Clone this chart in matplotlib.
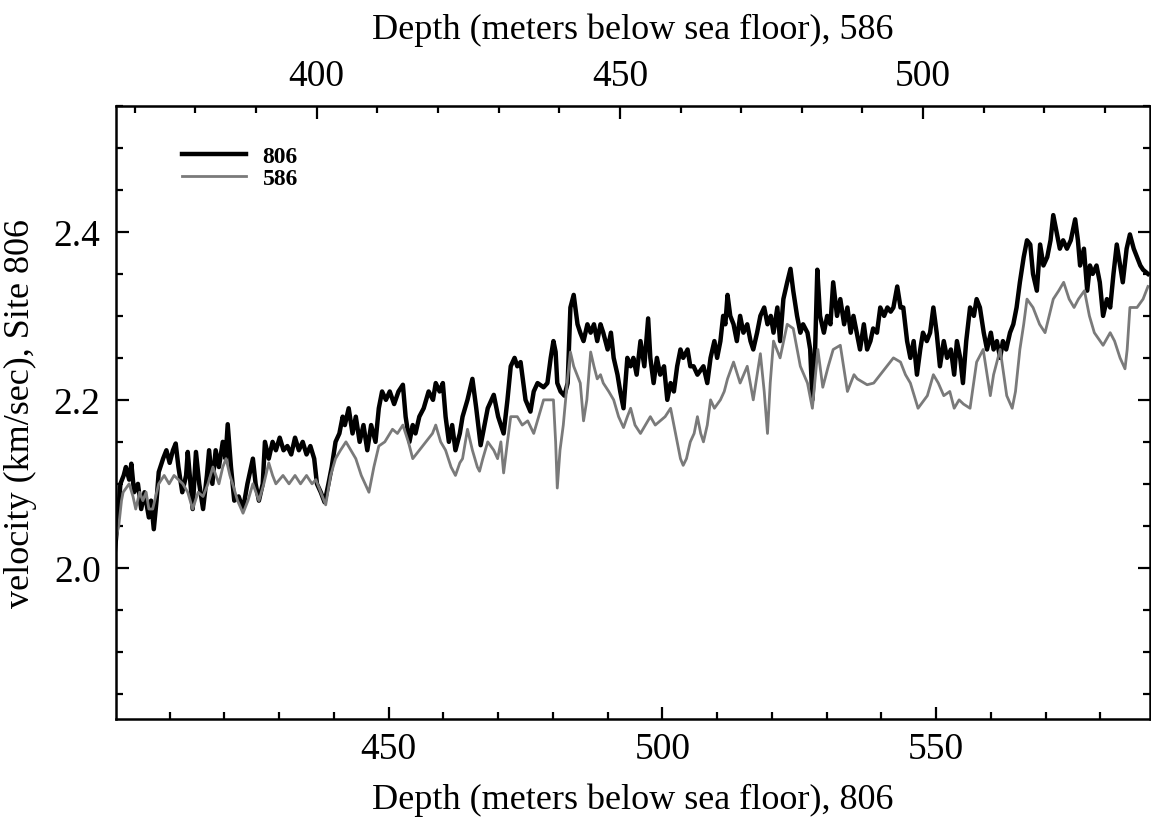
import numpy as np
import matplotlib.pyplot as plt
from matplotlib.ticker import MultipleLocator

plt.rcParams['font.family'] = ['Liberation Serif', 'DejaVu Serif']

# Site 806 velocity (km/sec) against depth (mbsf, 806 scale)
depth_806 = [400.0, 400.4, 401.0, 401.6, 402.0, 402.6, 403.0, 403.5, 404.2, 404.8,
             405.4, 406.2, 406.6, 407.1, 407.6, 408.0, 408.8, 409.4, 410.0, 410.6,
             411.1, 411.6, 412.3, 413.0, 413.3, 413.8, 414.2, 414.8, 415.4, 416.1,
             416.8, 417.2, 417.8, 418.4, 419.0, 419.7, 420.2, 420.6, 421.2, 421.8,
             422.6, 423.4, 424.2, 425.2, 425.7, 426.3, 427.0, 427.4, 428.1, 428.8,
             429.4, 430.1, 430.8, 431.5, 432.2, 432.9, 433.6, 434.3, 435.0, 435.7,
             436.4, 436.9, 437.6, 438.3, 439.0, 439.6, 440.3, 441.0, 441.6, 442.0,
             442.7, 443.4, 444.0, 444.7, 445.4, 446.1, 446.8, 447.6, 448.2, 448.8,
             449.5, 450.2, 451.0, 451.8, 452.6, 453.1, 453.8, 454.4, 454.9, 455.6,
             456.4, 457.3, 458.1, 458.6, 459.3, 459.9, 460.4, 461.0, 461.6, 462.2,
             463.0, 463.5, 464.4, 465.3, 466.0, 466.8, 467.5, 468.1, 469.2, 470.0,
             471.0, 471.7, 472.3, 473.0, 473.5, 474.1, 475.0, 475.9, 476.5, 477.2,
             478.3, 479.0, 479.6, 480.1, 480.5, 480.8, 481.4, 482.1, 482.7, 483.2,
             483.8, 484.1, 484.5, 485.0, 485.6, 486.3, 486.9, 487.5, 488.1, 488.7,
             489.2, 490.0, 490.6, 491.1, 491.8, 492.3, 492.9, 493.6, 494.2, 494.7,
             495.3, 496.0, 496.7, 497.4, 497.8, 498.4, 499.0, 499.6, 500.3, 500.9,
             501.5, 502.1, 502.7, 503.3, 503.8, 504.6, 505.1, 505.7, 506.4, 507.5,
             508.2, 508.8, 509.5, 510.0, 510.6, 511.1, 511.5, 511.9, 512.4, 513.0,
             513.6, 514.2, 514.8, 515.5, 516.1, 516.6, 517.3, 517.9, 518.6, 519.2,
             519.8, 520.3, 521.0, 521.5, 522.1, 522.8, 523.4, 523.9, 524.6, 525.2,
             525.7, 526.5, 527.0, 527.4, 527.9, 528.3, 528.8, 529.5, 530.1, 530.7,
             531.2, 531.9, 532.5, 533.2, 533.8, 534.4, 534.9, 535.5, 536.1, 536.8,
             537.4, 538.0, 538.5, 539.2, 539.8, 540.5, 541.1, 541.7, 542.2, 542.9,
             543.5, 544.0, 544.7, 545.3, 545.9, 546.5, 547.1, 547.6, 548.3, 548.9,
             549.5, 550.1, 550.7, 551.4, 552.0, 552.7, 553.3, 553.8, 554.4, 554.9,
             555.5, 556.2, 556.9, 557.4, 558.0, 558.7, 559.3, 560.0, 560.5, 561.1,
             561.7, 562.2, 562.8, 563.5, 564.1, 564.7, 565.3, 566.0, 566.6, 567.2,
             567.7, 568.4, 569.0, 569.6, 570.3, 570.9, 571.4, 572.0, 572.6, 573.2,
             573.9, 574.6, 575.4, 575.9, 576.3, 577.0, 577.6, 578.1, 578.6, 579.3,
             579.9, 580.5, 581.2, 581.8, 582.4, 583.0, 583.6, 584.1, 584.8, 585.4,
             586.1, 586.7, 587.3, 587.8, 588.7]
vel_806 = [2.02, 2.05, 2.10, 2.11, 2.12, 2.105, 2.124, 2.09, 2.10, 2.07,
           2.09, 2.06, 2.08, 2.046, 2.08, 2.114, 2.13, 2.14, 2.125, 2.14,
           2.148, 2.12, 2.09, 2.11, 2.138, 2.10, 2.07, 2.138, 2.10, 2.07,
           2.11, 2.14, 2.10, 2.14, 2.12, 2.15, 2.13, 2.171, 2.12, 2.08,
           2.085, 2.07, 2.10, 2.13, 2.10, 2.08, 2.10, 2.15, 2.13, 2.15,
           2.14, 2.155, 2.14, 2.145, 2.135, 2.155, 2.14, 2.15, 2.135, 2.145,
           2.13, 2.10, 2.09, 2.078, 2.10, 2.12, 2.15, 2.16, 2.18, 2.17,
           2.19, 2.16, 2.18, 2.15, 2.17, 2.14, 2.17, 2.15, 2.19, 2.21,
           2.20, 2.21, 2.195, 2.21, 2.218, 2.18, 2.15, 2.17, 2.16, 2.18,
           2.19, 2.21, 2.20, 2.22, 2.21, 2.22, 2.18, 2.15, 2.17, 2.14,
           2.16, 2.18, 2.20, 2.225, 2.19, 2.146, 2.17, 2.19, 2.206, 2.18,
           2.16, 2.20, 2.24, 2.25, 2.24, 2.245, 2.20, 2.186, 2.21, 2.22,
           2.215, 2.22, 2.25, 2.27, 2.257, 2.22, 2.21, 2.205, 2.22, 2.31,
           2.325, 2.31, 2.29, 2.28, 2.27, 2.29, 2.28, 2.29, 2.27, 2.29,
           2.28, 2.26, 2.28, 2.25, 2.23, 2.21, 2.19, 2.25, 2.24, 2.25,
           2.23, 2.27, 2.24, 2.297, 2.25, 2.22, 2.25, 2.23, 2.24, 2.20,
           2.22, 2.21, 2.24, 2.26, 2.25, 2.26, 2.24, 2.24, 2.23, 2.24,
           2.22, 2.25, 2.27, 2.25, 2.27, 2.30, 2.29, 2.325, 2.30, 2.29,
           2.27, 2.30, 2.28, 2.29, 2.27, 2.26, 2.28, 2.30, 2.31, 2.29,
           2.30, 2.28, 2.31, 2.27, 2.32, 2.34, 2.356, 2.33, 2.30, 2.28,
           2.29, 2.28, 2.26, 2.20, 2.26, 2.355, 2.30, 2.28, 2.30, 2.29,
           2.34, 2.30, 2.32, 2.29, 2.31, 2.28, 2.30, 2.28, 2.26, 2.29,
           2.26, 2.27, 2.285, 2.28, 2.31, 2.30, 2.31, 2.305, 2.31, 2.335,
           2.31, 2.31, 2.27, 2.25, 2.27, 2.23, 2.26, 2.28, 2.27, 2.28,
           2.31, 2.28, 2.24, 2.27, 2.25, 2.26, 2.23, 2.27, 2.25, 2.22,
           2.27, 2.31, 2.30, 2.32, 2.31, 2.28, 2.26, 2.28, 2.26, 2.27,
           2.25, 2.27, 2.26, 2.28, 2.29, 2.31, 2.34, 2.37, 2.39, 2.385,
           2.35, 2.33, 2.385, 2.36, 2.37, 2.39, 2.42, 2.40, 2.38, 2.39,
           2.38, 2.39, 2.415, 2.39, 2.36, 2.38, 2.33, 2.36, 2.35, 2.36,
           2.34, 2.30, 2.32, 2.31, 2.35, 2.385, 2.36, 2.34, 2.38, 2.397,
           2.38, 2.37, 2.36, 2.355, 2.35]

# Site 586 velocity, already placed on the 806 depth scale
depth_586 = [400.0, 400.7, 401.2, 401.5, 402.6, 403.3, 403.8, 404.5, 405.1, 405.7,
             406.2, 406.9, 408.0, 409.0, 409.9, 410.8, 412.4, 413.3, 414.2, 415.2,
             416.1, 417.0, 417.9, 419.0, 419.7, 420.3, 421.0, 421.5, 422.4, 423.4,
             424.3, 425.2, 426.3, 427.2, 428.1, 428.8, 429.4, 430.7, 431.8, 432.9,
             433.9, 435.0, 436.0, 436.7, 437.6, 438.5, 439.4, 440.3, 441.2, 442.2,
             443.1, 444.0, 445.0, 446.4, 447.3, 448.2, 449.3, 450.7, 451.6, 452.6,
             453.6, 454.4, 455.6, 456.8, 458.0, 458.6, 459.5, 460.4, 461.4, 462.2,
             463.0, 463.5, 464.4, 465.3, 466.2, 466.6, 467.2, 468.1, 469.2, 469.9,
             470.5, 471.0, 471.7, 472.3, 473.5, 474.4, 475.4, 476.5, 477.4, 478.3,
             479.6, 480.1, 480.5, 480.8, 481.3, 481.9, 482.6, 483.2, 483.8, 484.4,
             485.0, 485.6, 486.2, 486.9, 487.5, 488.1, 488.7, 489.2, 490.2, 491.1,
             492.0, 492.9, 493.6, 494.2, 495.0, 496.0, 496.9, 497.8, 498.7, 499.6,
             500.5, 501.5, 502.4, 503.3, 503.8, 504.4, 505.1, 505.8, 506.4, 507.0,
             507.5, 508.2, 508.8, 509.5, 510.6, 511.3, 511.9, 513.0, 514.2, 515.5,
             516.6, 517.3, 517.9, 518.6, 519.2, 519.7, 520.3, 521.5, 522.8, 523.9,
             525.2, 526.5, 527.4, 528.4, 529.3, 530.3, 531.2, 532.5, 533.8, 535.0,
             535.6, 537.4, 538.6, 539.8, 541.0, 542.2, 543.5, 544.4, 545.3, 546.7,
             548.4, 549.5, 550.4, 551.4, 552.5, 553.3, 554.2, 555.0, 556.2, 557.4,
             558.6, 559.9, 560.5, 561.7, 562.9, 563.9, 564.5, 565.3, 566.0, 566.6,
             567.7, 568.9, 569.9, 571.4, 572.4, 573.3, 574.3, 575.2, 576.0, 577.1,
             578.0, 578.9, 580.5, 581.8, 582.6, 583.6, 584.5, 584.9, 585.4, 586.7,
             587.8, 588.7]
vel_586 = [2.03, 2.05, 2.08, 2.09, 2.10, 2.085, 2.07, 2.09, 2.08, 2.09,
           2.07, 2.07, 2.10, 2.11, 2.10, 2.11, 2.10, 2.09, 2.07, 2.09,
           2.085, 2.10, 2.12, 2.10, 2.12, 2.13, 2.11, 2.10, 2.08, 2.065,
           2.08, 2.10, 2.08, 2.10, 2.125, 2.11, 2.10, 2.11, 2.10, 2.11,
           2.10, 2.11, 2.10, 2.105, 2.09, 2.075, 2.11, 2.13, 2.14, 2.15,
           2.14, 2.13, 2.11, 2.09, 2.12, 2.145, 2.15, 2.165, 2.16, 2.17,
           2.15, 2.13, 2.14, 2.15, 2.16, 2.17, 2.15, 2.14, 2.12, 2.11,
           2.125, 2.13, 2.165, 2.14, 2.12, 2.115, 2.13, 2.15, 2.14, 2.13,
           2.15, 2.113, 2.15, 2.18, 2.18, 2.17, 2.175, 2.16, 2.18, 2.20,
           2.20, 2.20, 2.15, 2.095, 2.14, 2.17, 2.22, 2.257, 2.24, 2.23,
           2.22, 2.175, 2.20, 2.257, 2.24, 2.225, 2.23, 2.22, 2.21, 2.20,
           2.18, 2.167, 2.18, 2.19, 2.17, 2.16, 2.17, 2.18, 2.17, 2.175,
           2.18, 2.19, 2.16, 2.13, 2.122, 2.13, 2.15, 2.16, 2.18, 2.16,
           2.15, 2.17, 2.20, 2.19, 2.20, 2.21, 2.225, 2.245, 2.22, 2.24,
           2.20, 2.23, 2.255, 2.21, 2.16, 2.22, 2.27, 2.25, 2.29, 2.285,
           2.24, 2.22, 2.19, 2.26, 2.215, 2.24, 2.26, 2.265, 2.21, 2.23,
           2.225, 2.218, 2.22, 2.23, 2.24, 2.25, 2.245, 2.23, 2.22, 2.19,
           2.205, 2.23, 2.22, 2.205, 2.21, 2.19, 2.20, 2.195, 2.19, 2.245,
           2.26, 2.205, 2.23, 2.26, 2.205, 2.19, 2.21, 2.26, 2.29, 2.32,
           2.31, 2.29, 2.28, 2.32, 2.33, 2.34, 2.32, 2.31, 2.32, 2.33,
           2.30, 2.28, 2.265, 2.28, 2.27, 2.25, 2.237, 2.26, 2.31, 2.31,
           2.32, 2.335]

top_ticks = [400, 450, 500]


# linear tie between the two depth scales (806 -> 586)
def to_586(d):
    return 411.86 + 0.9028 * (np.asarray(d) - 450)


def to_806(d):
    return 450 + (np.asarray(d) - 411.86) / 0.9028


fig = plt.figure(figsize=(11.51, 8.29), dpi=100)
ax = fig.add_axes([0.1008, 0.1315, 0.898, 0.7395])

ax.plot(depth_806, vel_806, color='black', lw=3.2, label='806')
ax.plot(depth_586, vel_586, color='#7a7a7a', lw=2.0, label='586')

ax.set_xlim(400.2, 589.0)
ax.set_ylim(1.82, 2.55)
ax.xaxis.set_major_locator(MultipleLocator(50))
ax.xaxis.set_minor_locator(MultipleLocator(10))
ax.yaxis.set_major_locator(MultipleLocator(0.2))
ax.yaxis.set_minor_locator(MultipleLocator(0.05))
ax.yaxis.set_major_formatter(plt.FormatStrFormatter('%.1f'))

ax.tick_params(which='both', direction='in', top=False, right=True, width=1.6,
               labelsize=27)
ax.tick_params(which='major', length=9)
ax.tick_params(which='minor', length=5)
ax.tick_params(axis='x', pad=9)
ax.tick_params(axis='y', pad=11)
for s in ax.spines.values():
    s.set_linewidth(1.8)

ax.set_xlabel('Depth (meters below sea floor), 806', fontsize=26, labelpad=12)
ax.set_ylabel('velocity (km/sec), Site 806', fontsize=26, labelpad=12)

top = ax.secondary_xaxis('top', functions=(to_586, to_806))
top.set_xticks(top_ticks)
top.xaxis.set_minor_locator(MultipleLocator(10))
top.tick_params(which='both', direction='in', width=1.6, labelsize=27, pad=9)
top.tick_params(which='major', length=9)
top.tick_params(which='minor', length=5)
top.set_xlabel('Depth (meters below sea floor), 586', fontsize=26, labelpad=15)

ax.legend(loc='upper left', bbox_to_anchor=(0.064, 0.935), frameon=False,
          handlelength=2.7, handletextpad=0.7, labelspacing=0.0,
          borderpad=0, borderaxespad=0, prop={'weight': 'bold', 'size': 17})

fig.savefig('out.png', dpi=100)
